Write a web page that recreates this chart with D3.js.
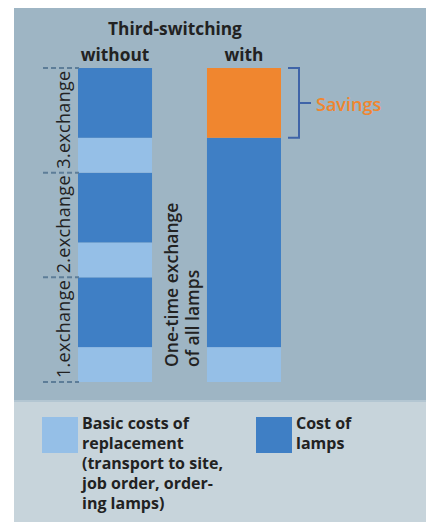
<!DOCTYPE html>
<html><head><meta charset="utf-8">
<script src="https://cdn.jsdelivr.net/npm/d3@7"></script>
<style>
html,body{margin:0;padding:0;background:#fff;}
svg{display:block;font-family:"Open Sans",sans-serif;}
</style></head>
<body>
<script>
const categories = ["without", "with"];
const withoutTypes = ["basic", "lamps", "basic", "lamps", "basic", "lamps"];
const withoutValues = [1, 2, 1, 2, 1, 2];
const withTypes = ["basic", "lamps", "savings"];
const withValues = [1, 6, 2];
const exchangeLabels = ["1.exchange", "2.exchange", "3.exchange"];
const legendLabels = [
  ["Basic costs of", "replacement", "(transport to site,", "job order, order-", "ing lamps)"],
  ["Cost of", "lamps"]
];
const legendTypes = ["basic", "lamps"];

const W = 426, H = 522;
const colors = {basic: "#95bfe7", lamps: "#3f7fc5", savings: "#f0862f"};

const svg = d3.select("body").append("svg").attr("width", W).attr("height", H);

// backgrounds
svg.append("rect").attr("x", 14).attr("y", 8).attr("width", W - 14).attr("height", 393).attr("fill", "#9eb5c4");
svg.append("rect").attr("x", 14).attr("y", 401).attr("width", W - 14).attr("height", H - 401).attr("fill", "#c7d4db");
svg.append("rect").attr("x", 14).attr("y", 400).attr("width", W - 14).attr("height", 2).attr("fill", "#b3c6d2");

const x = d3.scaleBand().domain(categories).range([78, 281]).paddingInner(0.426).paddingOuter(0);
const y = d3.scaleLinear().domain([0, 9]).range([382, 68]);

function stack(types, values) {
  let acc = 0;
  return types.map((t, i) => { const d = {type: t, y0: acc, y1: acc + values[i]}; acc += values[i]; return d; });
}
const series = {without: stack(withoutTypes, withoutValues), with: stack(withTypes, withValues)};

categories.forEach(c => {
  svg.append("g").selectAll("rect").data(series[c]).join("rect")
    .attr("x", x(c)).attr("width", x.bandwidth())
    .attr("y", d => y(d.y1)).attr("height", d => y(d.y0) - y(d.y1))
    .attr("fill", d => colors[d.type]);
});

// dashed markers on exchange boundaries
const bounds = [0, 3, 6, 9];
svg.append("g").selectAll("line").data(bounds).join("line")
  .attr("x1", 43).attr("x2", x("without") + 1)
  .attr("y1", d => y(d)).attr("y2", d => y(d))
  .attr("stroke", "#5d7d98").attr("stroke-width", 2).attr("stroke-dasharray", "5,3");

// exchange labels (rotated)
svg.append("g").selectAll("text").data(exchangeLabels).join("text")
  .attr("transform", (d, i) => `translate(70,${y(i * 3) - 4}) rotate(-90)`)
  .attr("font-size", 18).attr("letter-spacing", 0.3).attr("fill", "#222").text(d => d);

// one-time exchange label
const otl = svg.append("text").attr("transform", `translate(178,${y(0) - 15}) rotate(-90)`)
  .attr("font-size", 17.5).attr("font-weight", 600).attr("fill", "#222");
otl.append("tspan").attr("x", 0).attr("y", 0).text("One-time exchange");
otl.append("tspan").attr("x", 0).attr("dy", 21).text("of all lamps");

// titles
svg.append("text").attr("x", 175).attr("y", 35).attr("text-anchor", "middle")
  .attr("font-size", 17.3).attr("font-weight", "bold").attr("fill", "#222").text("Third-switching");
svg.append("g").selectAll("text").data(categories).join("text")
  .attr("x", d => x(d) + x.bandwidth() / 2).attr("y", 61).attr("text-anchor", "middle")
  .attr("font-size", 17.3).attr("font-weight", "bold").attr("fill", "#222").text(d => d);

// savings bracket
const sav = series.with[2];
const bx = x("with") + x.bandwidth() + 18;
const ym = (y(sav.y0) + y(sav.y1)) / 2;
svg.append("path")
  .attr("d", `M${bx - 11},${y(sav.y1)}H${bx}V${y(sav.y0)}H${bx - 11}M${bx},${ym}H${bx + 12}`)
  .attr("fill", "none").attr("stroke", "#3f64a8").attr("stroke-width", 2);
svg.append("text").attr("x", bx + 17).attr("y", ym + 8).attr("font-size", 18).attr("font-weight", 600)
  .attr("fill", colors.savings).text("Savings");

// legend
const lx = [42, 256];
legendTypes.forEach((t, i) => {
  svg.append("rect").attr("x", lx[i]).attr("y", 417).attr("width", 36).attr("height", 36).attr("fill", colors[t]);
  const tx = svg.append("text").attr("font-size", 16).attr("font-weight", "bold").attr("fill", "#222");
  legendLabels[i].forEach((l, j) => {
    tx.append("tspan").attr("x", lx[i] + 40).attr("y", 429 + j * 20).text(l);
  });
});
</script>
</body></html>
